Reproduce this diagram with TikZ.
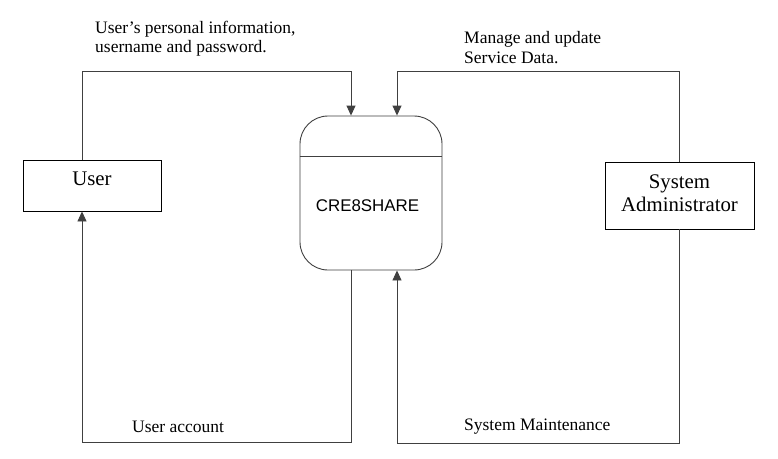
\documentclass[tikz,border=0pt]{standalone}
\usepackage{fontspec}
\setmainfont{Liberation Serif}
\newfontfamily\arialf{Liberation Sans}
\usetikzlibrary{arrows.meta}
\begin{document}
\begin{tikzpicture}[x=1pt,y=-1pt,
  box/.style={draw=black,line width=0.9pt,inner sep=0pt},
  flow/.style={draw=black!75,line width=0.9pt,-{Triangle[length=10pt,width=9pt]}},
  plain/.style={draw=black!75,line width=0.9pt},
  lbl/.style={inner sep=0pt,font=\fontsize{17.5}{19}\selectfont,align=left},
  boxtext/.style={inner sep=0pt,font=\fontsize{20.8}{22.5}\selectfont,align=center}]
\useasboundingbox[fill=white] (0,0) rectangle (778,458);
% nodes
\node[box,minimum width=138pt,minimum height=51pt] (user) at (92,185.5) {};
\node[boxtext,anchor=base] (usert) at (92,185.5) {User};
\node[draw=black!75,line width=0.9pt,rounded corners=28pt,minimum width=142pt,minimum height=154pt,inner sep=0pt] (sys) at (371,193) {};
\node[inner sep=0pt,font=\arialf\fontsize{16.9}{18}\selectfont,anchor=base] (syst) at (367.5,211) {CRE8SHARE};
\node[box,minimum width=149pt,minimum height=67pt] (admin) at (679.5,195.5) {};
\node[boxtext,anchor=north] (admint) at (679.5,175) {System\\Administrator};
\draw[plain] (sys.west |- 0,156) -- (sys.east |- 0,156);
% coordinates
\coordinate (a1) at (82,71);
\coordinate (a2) at (351,71);
\coordinate (b1) at (679.5,71);
\coordinate (b2) at (397,71);
\coordinate (c1) at (351,442);
\coordinate (c2) at (82,442);
\coordinate (d1) at (679.5,443);
\coordinate (d2) at (397,443);
% connectors
\draw[flow] (user.north -| a1) -- (a1) -- (a2) -- (sys.north -| a2);
\draw[flow] (admin.north -| b1) -- (b1) -- (b2) -- (sys.north -| b2);
\draw[flow] (sys.south -| c1) -- (c1) -- (c2) -- (user.south -| c2);
\draw[flow] (admin.south -| d1) -- (d1) -- (d2) -- (sys.south -| d2);
% labels
\node[lbl,anchor=base west] (l1a) at (95,33.5) {User’s personal information,};
\node[lbl,anchor=base west] (l1b) at (95,52) {username and password.};
\node[lbl,anchor=base west] (l2a) at (464,43.5) {Manage and update};
\node[lbl,anchor=base west] (l2b) at (464,63) {Service Data.};
\node[lbl,anchor=base west] (l3) at (132,432) {User account};
\node[lbl,anchor=base west] (l4) at (464,430) {System Maintenance};
\end{tikzpicture}
\end{document}
